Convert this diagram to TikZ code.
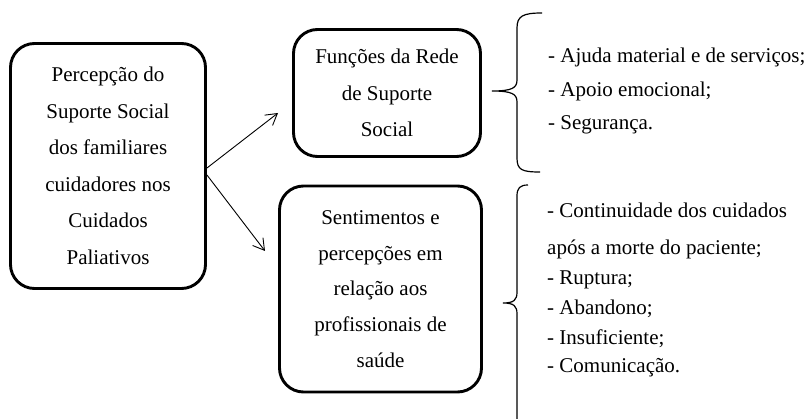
\documentclass[tikz,border=0pt]{standalone}
\usepackage{fontspec}
\setmainfont{Liberation Serif}
\usetikzlibrary{arrows.meta}
\begin{document}
\begin{tikzpicture}[x=1pt,y=-1pt,
  box/.style={draw, line width=2.9pt, rounded corners=24pt, align=center, inner sep=0pt, font=\fontsize{21}{36.5}\selectfont},
  item/.style={anchor=base west, inner sep=0pt, font=\fontsize{21}{25}\selectfont},
  arr/.style={line width=0.9pt, -{Straight Barb[length=11pt,width=13pt,line width=0.9pt]}},
  brace/.style={line width=1.2pt}]
\useasboundingbox (0,0) rectangle (809,419);
\clip (0,0) rectangle (809,419);
\node[box, minimum width=195pt, minimum height=245pt] (L) at (108,166) {Percepção do\\Suporte Social\\dos familiares\\cuidadores nos\\Cuidados\\Paliativos};
\node[box, minimum width=187pt, minimum height=127pt] (T) at (387,93) {Funções da Rede\\de Suporte\\Social};
\node[box, minimum width=202pt, minimum height=206pt, font=\fontsize{21}{35.8}\selectfont] (B) at (380.5,289) {Sentimentos e\\percepções em\\relação aos\\profissionais de\\saúde};
\coordinate (t1) at (278,113);
\coordinate (t2) at (265,251);
\draw[arr] ([yshift=-2pt]L.east) -- (t1);
\draw[arr] ([yshift=-9pt]L.east) -- (t2);
% braces
\draw[brace] (542,13) .. controls (523,13) and (517,16) .. (517,28) -- (517,80) .. controls (517,88) and (512,91) .. (492,91) .. controls (512,91) and (517,94) .. (517,102) -- (517,158) .. controls (517,170) and (522,172) .. (540,172);
\draw[brace] (528,185) .. controls (520,185) and (517,188) .. (517,196) -- (517,292) .. controls (517,300) and (514,303) .. (503,303) .. controls (514,303) and (517,306) .. (517,314) -- (517,424) .. controls (517,430) and (520,432) .. (528,432);
% lists
\node[item] (a1) at (548,63) {- Ajuda material e de serviços;};
\node[item] (a2) at (548,97) {- Apoio emocional;};
\node[item] (a3) at (548,130) {- Segurança.};
\node[item] (b1) at (547,218) {- Continuidade dos cuidados};
\node[item] (b2) at (547,255) {após a morte do paciente;};
\node[item] (b3) at (547,285) {- Ruptura;};
\node[item] (b4) at (547,315) {- Abandono;};
\node[item] (b5) at (547,345) {- Insuficiente;};
\node[item] (b6) at (547,373) {- Comunicação.};
\end{tikzpicture}
\end{document}
